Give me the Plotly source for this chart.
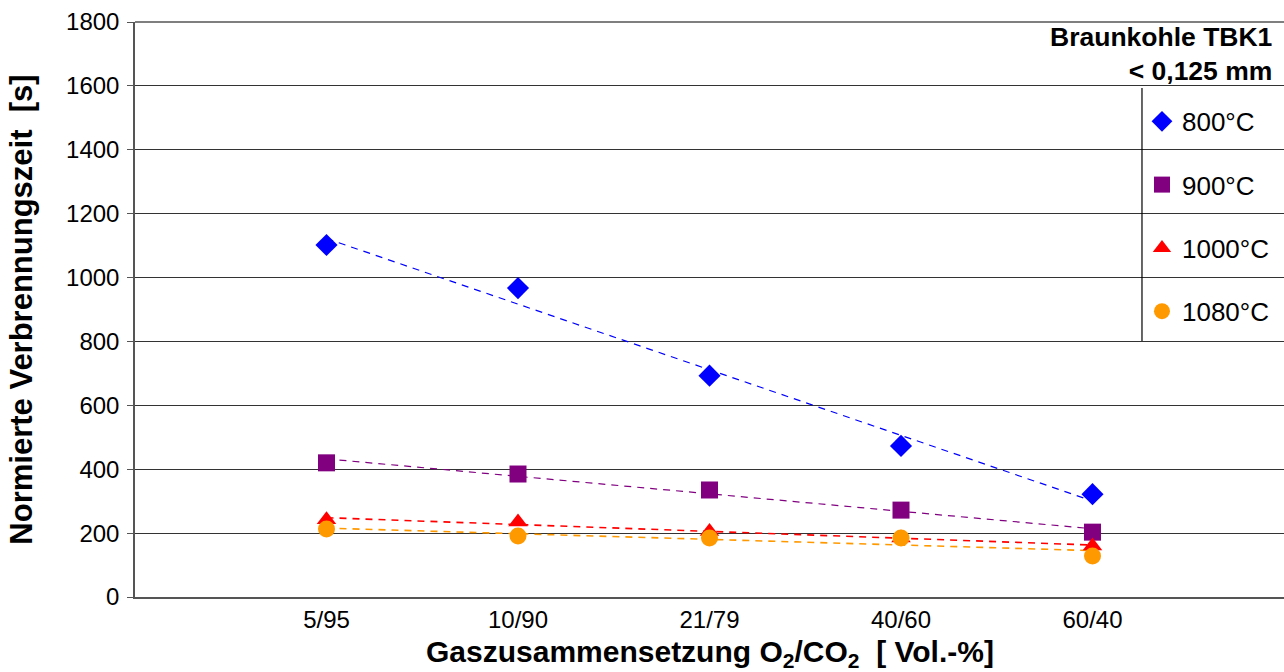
import numpy as np
import plotly.graph_objects as go

categories = ["5/95", "10/90", "21/79", "40/60", "60/40"]
t800 = [1102, 967, 693, 473, 322]
t900 = [420, 385, 335, 272, 203]
t1000 = [242, 235, 205, 185, 160]
t1080 = [213, 191, 185, 185, 128]

series = [
    ("800°C", t800, "#0000FF", "diamond", 1.2),
    ("900°C", t900, "#800080", "square", 1.2),
    ("1000°C", t1000, "#FF0000", "triangle-up", 1.6),
    ("1080°C", t1080, "#FF9900", "circle", 1.6),
]

idx = np.arange(len(categories))
fig = go.Figure()
# trend lines (linear fit over category index)
for name, vals, col, sym, lw in series:
    k, d = np.polyfit(idx, vals, 1)
    fig.add_trace(go.Scatter(x=idx, y=k * idx + d, mode="lines",
                             line=dict(color=col, width=lw, dash="7px,6px"),
                             showlegend=False, hoverinfo="skip"))
for i, (name, vals, col, sym, lw) in enumerate(series):
    fig.add_trace(go.Scatter(x=idx, y=vals, mode="markers", name=name,
                             legendgroup=f"g{i}",
                             marker=dict(color=col, symbol=sym, size=17,
                                         line=dict(width=0))))

FONT = "Liberation Sans, Arial, sans-serif"

fig.update_layout(
    width=1284, height=672,
    margin=dict(l=135, r=0, t=22, b=75),
    plot_bgcolor="white", paper_bgcolor="white",
    font=dict(family=FONT, color="black"),
    showlegend=True,
    legend=dict(x=0.8764, xanchor="left", y=0.868, yanchor="top",
                bgcolor="rgba(255,255,255,0)", borderwidth=0,
                font=dict(size=26, family=FONT, color="black"),
                traceorder="grouped", tracegroupgap=26.5,
                itemsizing="trace"),
    xaxis=dict(range=[-1, 5], tickmode="array", tickvals=list(idx),
               ticktext=categories, showgrid=False, zeroline=False,
               showline=True, linecolor="#555555", linewidth=1.5,
               ticks="", tickfont=dict(size=24)),
    yaxis=dict(range=[0, 1800], dtick=200, showgrid=True,
               gridcolor="#333333", gridwidth=1, zeroline=False,
               showline=True, linecolor="#555555", linewidth=1.5,
               ticks="outside", ticklen=6, tickcolor="#555555",
               tickfont=dict(size=24), ticklabelstandoff=3,
               title=dict(text="Normierte Verbrennungszeit\u00a0\u00a0[s]",
                          font=dict(size=31, weight="bold"), standoff=24)),
)

# x-axis title
fig.add_annotation(xref="paper", yref="paper", x=0.5, y=(597 - 653) / 575,
                   xanchor="center", yanchor="middle", showarrow=False,
                   text="<b>Gaszusammensetzung O<sub>2</sub>/CO<sub>2</sub>\u00a0\u00a0[ Vol.-%]</b>",
                   font=dict(size=30, family=FONT, color="black"))

# top border
fig.add_shape(type="line", xref="paper", yref="paper", x0=0, x1=1, y0=1, y1=1,
              line=dict(color="#555555", width=1.5))
# legend box left border
fig.add_shape(type="line", xref="paper", yref="paper", x0=0.8764, x1=0.8764,
              y0=(597 - 341) / 575, y1=(597 - 88) / 575,
              line=dict(color="black", width=1.2))

fig.add_annotation(xref="paper", yref="paper", x=0.991, y=1.004,
                   xanchor="right", yanchor="top", align="right", showarrow=False,
                   text="<b>Braunkohle TBK1</b><br><b>< 0,125 mm</b>",
                   font=dict(size=26.5, family=FONT, color="black"))

fig.write_html("out.html")
